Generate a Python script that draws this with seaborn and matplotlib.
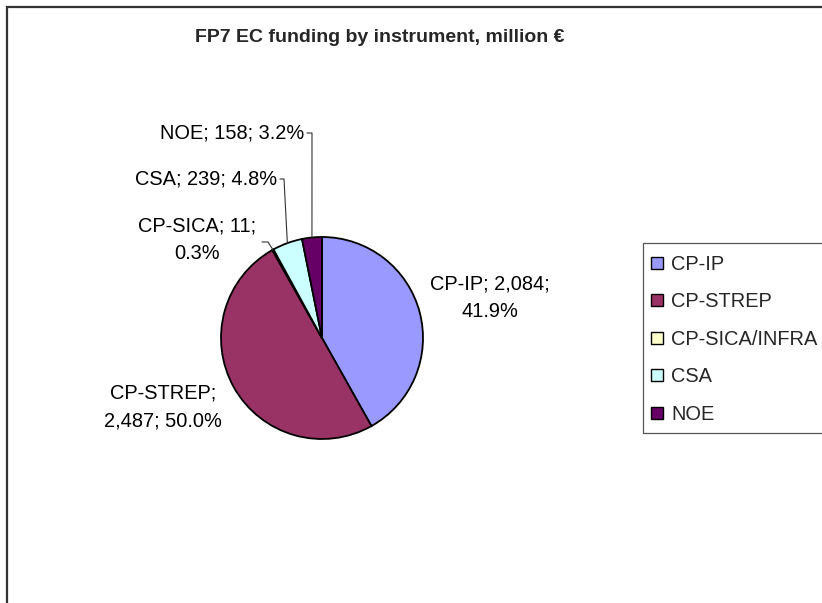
import numpy as np
import matplotlib
matplotlib.use("Agg")
import matplotlib.pyplot as plt
import seaborn as sns
from matplotlib.patches import Rectangle
from matplotlib.lines import Line2D

# ---- data ----
categories = ["CP-IP", "CP-STREP", "CP-SICA/INFRA", "CSA", "NOE"]
label_names = ["CP-IP", "CP-STREP", "CP-SICA", "CSA", "NOE"]
values = [2084, 2487, 11, 239, 158]
percents = [41.9, 50.0, 0.3, 4.8, 3.2]
colors = ["#9999FF", "#993366", "#FFFFCC", "#CCFFFF", "#660066"]
title = "FP7 EC funding by instrument, million €"

sns.set_theme(style="white")
plt.rcParams['font.family'] = ['Liberation Sans', 'DejaVu Sans']

W, H = 822, 603
FS = 14.4
fig = plt.figure(figsize=(W / 100, H / 100), dpi=100)
ax = fig.add_axes([0, 0, 1, 1])

cx, cy, r = 322, 338, 101
wedges, _ = ax.pie(values, colors=colors, startangle=90, counterclock=False,
                   center=(cx, H - cy), radius=r,
                   wedgeprops=dict(edgecolor='black', linewidth=1.3))
ax.set_xlim(0, W)
ax.set_ylim(0, H)
ax.set_aspect('auto')
ax.axis('off')

vals = np.array(values, dtype=float)

# label layout: (x, y in image px, ha, break index)
layout = [
    (490, 298, 'center', 2),
    (163, 407, 'center', 1),
    (197, 240, 'center', 2),
    (277, 179, 'right', None),
    (304, 133, 'right', None),
]
for i, (x, y, ha, brk) in enumerate(layout):
    parts = [f"{label_names[i]};", f"{values[i]:,};", f"{percents[i]:.1f}%"]
    if brk is None:
        txt = " ".join(parts)
    else:
        txt = " ".join(parts[:brk]) + "\n" + " ".join(parts[brk:])
    ax.text(x, H - y, txt, ha=ha, va='center', multialignment='center',
            fontsize=FS, color='black', linespacing=1.55)

# leader lines to wedge edges
cum = np.concatenate([[0], np.cumsum(vals)]) / vals.sum()
def edge_point(i):
    ang = np.deg2rad(90 - 360 * (cum[i] + cum[i + 1]) / 2)
    return cx + r * np.cos(ang), H - (cy - r * np.sin(ang))

leaders = {4: [(307, 133), (312, 133)], 3: [(280, 179), (284, 179)], 2: [(262, 242), (268, 242)]}
for i, pts in leaders.items():
    ex, ey = edge_point(i)
    xs = [p[0] for p in pts] + [ex]
    ys = [H - p[1] for p in pts] + [ey]
    ax.plot(xs, ys, color='#333333', lw=0.8)

ax.text(380, H - 38, title, ha='center', va='center', fontsize=14, weight='bold')

# legend
handles = [Line2D([], [], marker='s', ls='none', markersize=9, markerfacecolor=c,
                  markeredgecolor='black', markeredgewidth=1.0) for c in colors]
fig.legend(handles, categories, loc='upper left', bbox_to_anchor=(649.5 / W, 1 - 255 / H),
           frameon=False, fontsize=FS, handlelength=0.7, handletextpad=0.375,
           labelspacing=0.92, borderaxespad=0, borderpad=0)
ax.add_patch(Rectangle((643, H - 433), 300, 190, fill=False, edgecolor='#555555', lw=0.9))

# chart frame
ax.add_patch(Rectangle((7, -200), 1000, H - 7 + 200, fill=False, edgecolor='#333333', lw=1.6))

fig.savefig("out.png", dpi=100)
